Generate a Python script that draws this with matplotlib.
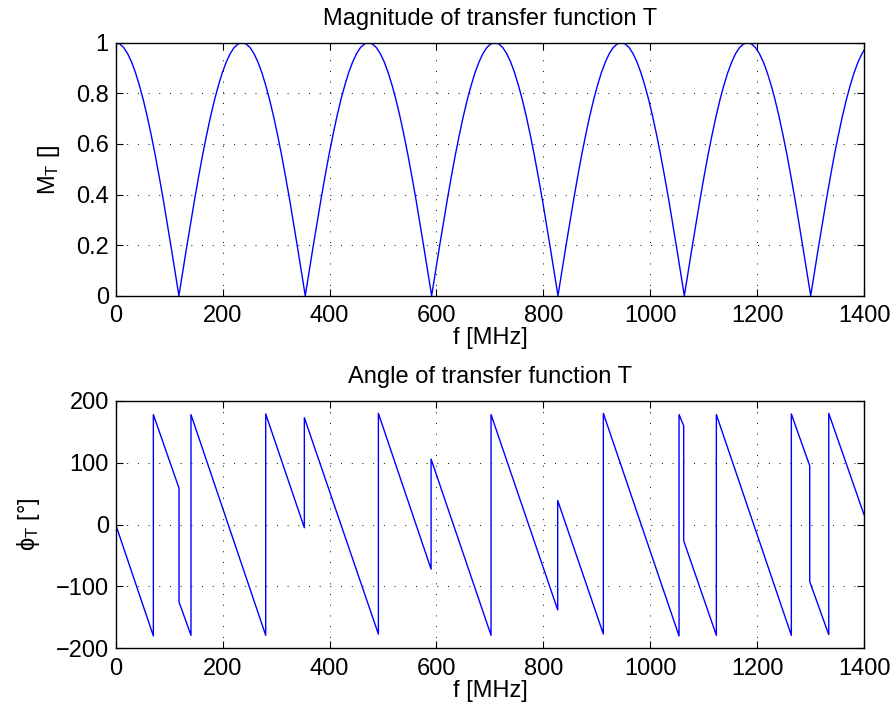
import matplotlib
matplotlib.use("Agg")
import matplotlib.pyplot as plt

plt.rcParams['font.family'] = ['Liberation Sans', 'DejaVu Sans']
plt.rcParams['mathtext.fontset'] = 'custom'
plt.rcParams['mathtext.rm'] = 'Liberation Sans'
plt.rcParams['mathtext.it'] = 'Liberation Sans:italic'

# Magnitude of transfer function
mag_f = [0, 7.4, 14.8, 22.2, 29.6, 36.9, 44.3, 51.7, 59.1, 66.5, 73.9, 81.3, 88.7, 96.0, 103.4, 110.8,
         118.2, 125.6, 133.0, 140.4, 147.8, 155.1, 162.5, 169.9, 177.3, 184.7, 192.1, 199.5, 206.9, 214.2, 221.6, 229.0,
         236.4, 243.8, 251.2, 258.6, 266.0, 273.3, 280.7, 288.1, 295.5, 302.9, 310.3, 317.7, 325.1, 332.4, 339.8, 347.2,
         354.6, 362.0, 369.4, 376.8, 384.2, 391.5, 398.9, 406.3, 413.7, 421.1, 428.5, 435.9, 443.3, 450.6, 458.0, 465.4,
         472.8, 480.2, 487.6, 495.0, 502.4, 509.7, 517.1, 524.5, 531.9, 539.3, 546.7, 554.1, 561.5, 568.8, 576.2, 583.6,
         591.0, 598.4, 605.8, 613.2, 620.6, 627.9, 635.3, 642.7, 650.1, 657.5, 664.9, 672.3, 679.7, 687.0, 694.4, 701.8,
         709.2, 716.6, 724.0, 731.4, 738.8, 746.1, 753.5, 760.9, 768.3, 775.7, 783.1, 790.5, 797.9, 805.2, 812.6, 820.0,
         827.4, 834.8, 842.2, 849.6, 857.0, 864.3, 871.7, 879.1, 886.5, 893.9, 901.3, 908.7, 916.1, 923.4, 930.8, 938.2,
         945.6, 953.0, 960.4, 967.8, 975.2, 982.5, 989.9, 997.3, 1004.7, 1012.1, 1019.5, 1026.9, 1034.3, 1041.6, 1049.0, 1056.4,
         1063.8, 1071.2, 1078.6, 1086.0, 1093.4, 1100.7, 1108.1, 1115.5, 1122.9, 1130.3, 1137.7, 1145.1, 1152.5, 1159.8, 1167.2, 1174.6,
         1182.0, 1189.4, 1196.8, 1204.2, 1211.6, 1218.9, 1226.3, 1233.7, 1241.1, 1248.5, 1255.9, 1263.3, 1270.7, 1278.0, 1285.4, 1292.8,
         1300.2, 1307.6, 1315.0, 1322.4, 1329.8, 1337.1, 1344.5, 1351.9, 1359.3, 1366.7, 1374.1, 1381.5, 1388.9, 1396.2, 1400.0]
mag_v = [1.000, 0.995, 0.981, 0.957, 0.924, 0.882, 0.831, 0.773, 0.707, 0.634, 0.556, 0.471, 0.383, 0.290, 0.195, 0.098,
         0.000, 0.098, 0.195, 0.290, 0.383, 0.471, 0.556, 0.634, 0.707, 0.773, 0.831, 0.882, 0.924, 0.957, 0.981, 0.995,
         1.000, 0.995, 0.981, 0.957, 0.924, 0.882, 0.831, 0.773, 0.707, 0.634, 0.556, 0.471, 0.383, 0.290, 0.195, 0.098,
         0.000, 0.098, 0.195, 0.290, 0.383, 0.471, 0.556, 0.634, 0.707, 0.773, 0.831, 0.882, 0.924, 0.957, 0.981, 0.995,
         1.000, 0.995, 0.981, 0.957, 0.924, 0.882, 0.831, 0.773, 0.707, 0.634, 0.556, 0.471, 0.383, 0.290, 0.195, 0.098,
         0.000, 0.098, 0.195, 0.290, 0.383, 0.471, 0.556, 0.634, 0.707, 0.773, 0.831, 0.882, 0.924, 0.957, 0.981, 0.995,
         1.000, 0.995, 0.981, 0.957, 0.924, 0.882, 0.831, 0.773, 0.707, 0.634, 0.556, 0.471, 0.383, 0.290, 0.195, 0.098,
         0.000, 0.098, 0.195, 0.290, 0.383, 0.471, 0.556, 0.634, 0.707, 0.773, 0.831, 0.882, 0.924, 0.957, 0.981, 0.995,
         1.000, 0.995, 0.981, 0.957, 0.924, 0.882, 0.831, 0.773, 0.707, 0.634, 0.556, 0.471, 0.383, 0.290, 0.195, 0.098,
         0.000, 0.098, 0.195, 0.290, 0.383, 0.471, 0.556, 0.634, 0.707, 0.773, 0.831, 0.882, 0.924, 0.957, 0.981, 0.995,
         1.000, 0.995, 0.981, 0.957, 0.924, 0.882, 0.831, 0.773, 0.707, 0.634, 0.556, 0.471, 0.383, 0.290, 0.195, 0.098,
         0.000, 0.098, 0.195, 0.290, 0.383, 0.471, 0.556, 0.634, 0.707, 0.773, 0.831, 0.882, 0.924, 0.957, 0.970]

# Angle of transfer function (breakpoints)
ph_f = [0, 70.4, 70.4, 118.4, 118.4, 140.8, 140.8, 280.6, 280.6, 352.9, 352.9,
        491.4, 491.4, 590.0, 590.0, 702.2, 702.2, 826.9, 826.9, 912.3, 912.3,
        1053.9, 1053.9, 1062.6, 1062.6, 1123.7, 1123.7, 1264.0, 1264.0, 1298.4,
        1298.4, 1334.0, 1334.0, 1400.0]
ph_v = [0, -180, 178, 59, -125, -179, 178, -179, 179, -5, 173,
        -177, 180, -72, 106, -179, 178, -138, 39, -177, 180,
        -180, 178, 160, -26, -179, 178, -179, 179, 95,
        -92, -178, 180, 16]

x_ticks = [0, 200, 400, 600, 800, 1000, 1200, 1400]
mag_ticks = [0, 0.2, 0.4, 0.6, 0.8, 1]
mag_tick_labels = ['0', '0.2', '0.4', '0.6', '0.8', '1']
ph_ticks = [-200, -100, 0, 100, 200]
ph_tick_labels = ['\u2212200', '\u2212100', '0', '100', '200']

fig = plt.figure(figsize=(8.95, 7.15), dpi=100)
ax1 = fig.add_axes([0.1293, 0.5864, 0.8361, 0.3539])
ax2 = fig.add_axes([0.1293, 0.0933, 0.8361, 0.3459])

FS = 17

def style(ax):
    ax.grid(True, color='black', linestyle=(0, (1, 10)), linewidth=0.7)
    ax.tick_params(direction='in', top=True, right=True, labelsize=FS,
                   length=5, width=0.8)
    ax.tick_params(axis='x', pad=7)
    ax.tick_params(axis='y', pad=5)
    for s in ax.spines.values():
        s.set_linewidth(1.0)
    ax.set_xlim(0, 1400)
    ax.set_xticks(x_ticks)
    ax.set_xlabel('f [MHz]', fontsize=FS, labelpad=0)

ax1.plot(mag_f, mag_v, color='#0000ff', linewidth=1.0)
style(ax1)
ax1.set_ylim(0, 1)
ax1.set_yticks(mag_ticks)
ax1.set_yticklabels(mag_tick_labels)
ax1.set_title('Magnitude of transfer function T', fontsize=FS, pad=13)
ax1.set_ylabel(r'M$_{\mathrm{T}}$ []', fontsize=FS)
ax1.yaxis.set_label_coords(-0.072, 0.5)

ax2.plot(ph_f, ph_v, color='#0000ff', linewidth=1.0)
style(ax2)
ax2.set_ylim(-200, 200)
ax2.set_yticks(ph_ticks)
ax2.set_yticklabels(ph_tick_labels)
ax2.set_title('Angle of transfer function T', fontsize=FS, pad=13)
ax2.set_ylabel('\u03d5$_{\\mathrm{T}}$ [\u00b0]', fontsize=FS)
ax2.yaxis.set_label_coords(-0.098, 0.5)

fig.savefig('out.png', dpi=100)
